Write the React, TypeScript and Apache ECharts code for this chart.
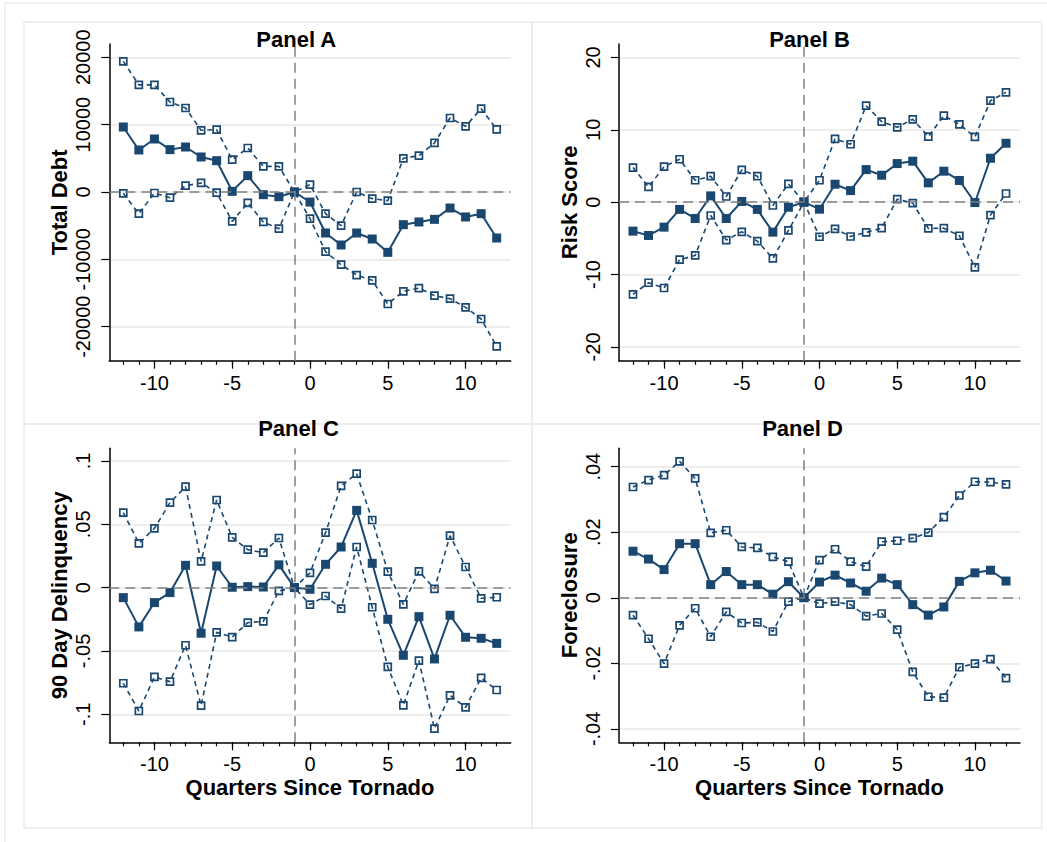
import React, { useEffect, useRef } from "react";
import * as echarts from "echarts";

// ---------- data ----------
const quarters = [-12, -11, -10, -9, -8, -7, -6, -5, -4, -3, -2, -1, 0, 1, 2, 3, 4, 5, 6, 7, 8, 9, 10, 11, 12];
const xMajorTicks = [-10, -5, 0, 5, 10];
const xLabelTitle = "Quarters Since Tornado";
const refQuarter = -1;
const refValue = 0;

const panelTitles = ["Panel A", "Panel B", "Panel C", "Panel D"];
const yTitles = ["Total Debt", "Risk Score", "90 Day Delinquency", "Foreclosure"];

const yTicksA = [-20000, -10000, 0, 10000, 20000];
const yTicksB = [-20, -10, 0, 10, 20];
const yTicksC = [-0.1, -0.05, 0, 0.05, 0.1];
const yTicksD = [-0.04, -0.02, 0, 0.02, 0.04];

const pointA = [9650, 6240, 7870, 6290, 6680, 5200, 4650, 100, 2430, -400, -700, 0, -1490, -6090, -7870, -6090, -6980, -8960, -4850, -4450, -4060, -2380, -3710, -3220, -6830];
const upperA = [19400, 15900, 15900, 13360, 12470, 9160, 9260, 4800, 6530, 3810, 3810, 0, 1090, -3220, -5000, 0, -990, -1290, 5000, 5400, 7280, 10990, 9750, 12380, 9300];
const lowerA = [-200, -3220, -150, -840, 940, 1340, -100, -4360, -1630, -4450, -5450, 0, -3960, -8860, -10790, -12330, -13120, -16630, -14750, -14260, -15390, -15840, -17130, -18860, -22920];

const pointB = [-4.0, -4.6, -3.45, -1.0, -2.25, 0.87, -2.25, 0.1, -1.0, -4.14, -0.7, 0, -0.97, 2.48, 1.6, 4.5, 3.72, 5.33, 5.66, 2.67, 4.28, 3.0, -0.05, 6.07, 8.14];
const upperB = [4.78, 2.1, 4.9, 5.93, 3.03, 3.59, 0.78, 4.46, 3.59, -0.46, 2.53, 0, 3.03, 8.74, 8.0, 13.33, 11.13, 10.34, 11.45, 9.06, 11.95, 10.76, 9.01, 14.02, 15.17];
const lowerB = [-12.74, -11.13, -11.86, -7.95, -7.36, -1.84, -5.24, -4.09, -5.38, -7.77, -3.91, 0, -4.78, -3.68, -4.74, -4.18, -3.59, 0.41, -0.14, -3.63, -3.59, -4.64, -9.01, -1.79, 1.2];

const pointC = [-0.0079, -0.031, -0.0118, -0.0039, 0.0176, -0.036, 0.0171, 0.0003, 0.0008, 0.0005, 0.018, 0, -0.0013, 0.0184, 0.0321, 0.061, 0.0192, -0.025, -0.0534, -0.0229, -0.0563, -0.0218, -0.0392, -0.04, -0.044];
const upperC = [0.0592, 0.035, 0.0468, 0.0671, 0.0797, 0.0208, 0.0692, 0.0397, 0.03, 0.0276, 0.0392, 0, 0.0116, 0.0434, 0.0803, 0.09, 0.0534, 0.0126, -0.0132, 0.0129, -0.001, 0.041, 0.0163, -0.0084, -0.0076];
const lowerC = [-0.0755, -0.0974, -0.0705, -0.0742, -0.0455, -0.0932, -0.0353, -0.039, -0.0276, -0.0266, -0.0026, 0, -0.0134, -0.0066, -0.0166, 0.0321, -0.0155, -0.0626, -0.0929, -0.0576, -0.1113, -0.085, -0.0945, -0.0713, -0.0808];

const pointD = [0.0142, 0.0118, 0.0086, 0.0165, 0.0165, 0.004, 0.008, 0.004, 0.004, 0.0011, 0.0049, 0, 0.0048, 0.0069, 0.0045, 0.002, 0.006, 0.004, -0.0021, -0.0053, -0.0028, 0.005, 0.0076, 0.0084, 0.0051];
const upperD = [0.0338, 0.0359, 0.0374, 0.0416, 0.0364, 0.0198, 0.0206, 0.0155, 0.0152, 0.0125, 0.011, 0, 0.0115, 0.0148, 0.011, 0.0095, 0.0171, 0.0174, 0.0182, 0.0199, 0.0246, 0.0312, 0.0354, 0.0353, 0.0346];
const lowerD = [-0.0053, -0.0125, -0.0201, -0.0084, -0.0032, -0.0119, -0.0043, -0.0077, -0.0075, -0.0103, -0.0012, 0, -0.0018, -0.0012, -0.0021, -0.0056, -0.0048, -0.0097, -0.0226, -0.0302, -0.0305, -0.0212, -0.0201, -0.0187, -0.0245];

// ---------- layout / style ----------
const NAVY = "#1a476f";
const FONT = "'Liberation Sans', Arial, sans-serif";
const X_MIN = -12.9;
const X_MAX = 12.9;

const panelDefs = [
  { ticks: yTicksA, point: pointA, upper: upperA, lower: lowerA, min: -25050, max: 21975,
    grid: { left: 109.3, top: 44, width: 401.4, height: 316.7 }, titlePos: [296.3, 39.5], frame: [24, 22, 508, 402] },
  { ticks: yTicksB, point: pointB, upper: upperB, lower: lowerB, min: -21.9, max: 21.85,
    grid: { left: 619, top: 44, width: 401, height: 316.7 }, titlePos: [809.5, 39.5], frame: [532, 22, 509.7, 402] },
  { ticks: yTicksC, point: pointC, upper: upperC, lower: lowerC, min: -0.1221, max: 0.110,
    grid: { left: 109.3, top: 448.3, width: 401.4, height: 294 }, titlePos: [298.5, 428.5], frame: [24, 424, 508, 404] },
  { ticks: yTicksD, point: pointD, upper: upperD, lower: lowerD, min: -0.0441, max: 0.0456,
    grid: { left: 619, top: 448.3, width: 401, height: 294 }, titlePos: [802.5, 428.5], frame: [532, 424, 509.7, 404] },
];

const fmt = (v: number) => String(v).replace(/^(-?)0\./, "$1.");

function buildOption() {
  const grid: any[] = [];
  const xAxis: any[] = [];
  const yAxis: any[] = [];
  const series: any[] = [];
  const graphic: any[] = [];

  graphic.push({
    type: "rect", z: -10, silent: true,
    shape: { x: 5, y: 3, width: 1200, height: 1000 },
    style: { fill: "none", stroke: "#ececec", lineWidth: 1.5 },
  });

  panelDefs.forEach((p, i) => {
    grid.push({ ...p.grid, containLabel: false });
    const showXTitle = i >= 2;
    xAxis.push({
      type: "value", gridIndex: i, min: X_MIN, max: X_MAX, position: "bottom",
      axisLine: { show: false, onZero: false },
      axisTick: { show: true, length: 4, customValues: quarters, lineStyle: { color: "#000", width: 1.2 } },
      axisLabel: { show: false },
      splitLine: { show: false },
    });
    xAxis.push({
      type: "value", gridIndex: i, min: X_MIN, max: X_MAX, position: "bottom",
      axisLine: { show: true, onZero: false, lineStyle: { color: "#000", width: 1.5 } },
      axisTick: { show: true, length: 8, customValues: xMajorTicks, lineStyle: { color: "#000", width: 1.2 } },
      axisLabel: { customValues: xMajorTicks, margin: 12, fontSize: 20, color: "#000", fontFamily: FONT },
      splitLine: { show: false },
      name: showXTitle ? xLabelTitle : "",
      nameLocation: "middle", nameGap: 34,
      nameTextStyle: { fontWeight: "bold", fontSize: 22, color: "#000", fontFamily: FONT },
    });
    yAxis.push({
      type: "value", gridIndex: i, min: p.min, max: p.max,
      axisLine: { show: true, onZero: false, lineStyle: { color: "#000", width: 1.5 } },
      axisTick: { show: true, length: 8, customValues: p.ticks, lineStyle: { color: "#000", width: 1.2 } },
      axisLabel: { customValues: p.ticks, rotate: 90, margin: 16, fontSize: 20, color: "#000", fontFamily: FONT, formatter: fmt },
      splitLine: { show: true, lineStyle: { color: "#e8e8e8", width: 1.5 } },
      name: yTitles[i], nameLocation: "middle", nameRotate: 90, nameGap: 39,
      nameTextStyle: { fontWeight: "bold", fontSize: 22, color: "#000", fontFamily: FONT },
    });

    const toData = (vals: number[]) => quarters.map((q, k) => [q, vals[k]]);
    const ciStyle = {
      type: "line", xAxisIndex: 2 * i + 1, yAxisIndex: i,
      symbol: "rect", symbolSize: 7, showSymbol: true,
      itemStyle: { color: "rgba(255,255,255,0)", borderColor: NAVY, borderWidth: 1.7 },
      lineStyle: { color: NAVY, width: 1.6, type: [5, 4] },
      emphasis: { disabled: true }, silent: true,
    };
    series.push({
      ...ciStyle, name: "lower" + i, data: toData(p.lower),
      markLine: {
        silent: true, symbol: ["none", "none"], label: { show: false },
        lineStyle: { type: [10, 6], color: "#808080", width: 1.5 },
        emphasis: { disabled: true },
        data: [{ xAxis: refQuarter }, { yAxis: refValue }],
      },
    });
    series.push({ ...ciStyle, name: "upper" + i, data: toData(p.upper) });
    series.push({
      type: "line", name: "point" + i, xAxisIndex: 2 * i + 1, yAxisIndex: i,
      data: toData(p.point), symbol: "rect", symbolSize: 9, showSymbol: true,
      itemStyle: { color: NAVY }, lineStyle: { color: NAVY, width: 2 },
      emphasis: { disabled: true }, silent: true,
    });

    graphic.push({
      type: "rect", z: -10, silent: true,
      shape: { x: p.frame[0], y: p.frame[1], width: p.frame[2], height: p.frame[3] },
      style: { fill: "none", stroke: "#ececec", lineWidth: 1.5 },
    });
    graphic.push({
      type: "text", silent: true, x: p.titlePos[0], y: p.titlePos[1],
      style: { text: panelTitles[i], fill: "#000", font: `bold 22px ${FONT}`, textAlign: "center", textVerticalAlign: "middle" },
    });
  });

  return { animation: false, backgroundColor: "#fff", grid, xAxis, yAxis, series, graphic };
}

export default function App() {
  const ref = useRef<HTMLDivElement>(null);
  useEffect(() => {
    if (!ref.current) return;
    const chart = echarts.init(ref.current, null, { renderer: "svg" });
    chart.setOption(buildOption());
    return () => chart.dispose();
  }, []);
  return <div ref={ref} style={{ position: "absolute", left: 0, top: 0, width: 1047, height: 842 }} />;
}
